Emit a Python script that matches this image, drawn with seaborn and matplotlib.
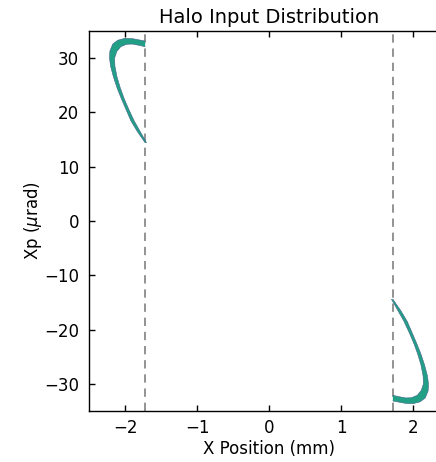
import numpy as np
import matplotlib
matplotlib.use("Agg")
import matplotlib.pyplot as plt
import seaborn as sns
import pandas as pd

# Halo shell edges in phase space (x in mm, xp in urad), beyond the cut |x| > 1.72
left_outer_x = [-1.72, -1.83, -1.92, -1.985, -2.05, -2.11, -2.16, -2.20, -2.215, -2.21, -2.17, -2.10, -2.00, -1.90, -1.80, -1.72]
left_outer_y = [14.4, 16.5, 18.5, 20.5, 22.5, 24.5, 26.5, 28.5, 30.0, 31.3, 32.6, 33.3, 33.65, 33.6, 33.35, 33.15]
left_inner_x = [-1.70, -1.79, -1.875, -1.945, -2.01, -2.065, -2.11, -2.14, -2.145, -2.115, -2.06, -1.98, -1.90, -1.80, -1.72]
left_inner_y = [14.4, 16.5, 18.5, 20.5, 22.5, 24.5, 26.5, 28.5, 30.0, 31.2, 32.1, 32.55, 32.6, 32.35, 32.1]

right_outer_x = [1.72, 1.83, 1.92, 1.985, 2.05, 2.11, 2.16, 2.20, 2.215, 2.21, 2.17, 2.10, 2.00, 1.90, 1.80, 1.72]
right_outer_y = [-14.4, -16.5, -18.5, -20.5, -22.5, -24.5, -26.5, -28.5, -30.0, -31.3, -32.6, -33.3, -33.65, -33.6, -33.35, -33.15]
right_inner_x = [1.70, 1.79, 1.875, 1.945, 2.01, 2.065, 2.11, 2.14, 2.145, 2.115, 2.06, 1.98, 1.90, 1.80, 1.72]
right_inner_y = [-14.4, -16.5, -18.5, -20.5, -22.5, -24.5, -26.5, -28.5, -30.0, -31.2, -32.1, -32.55, -32.6, -32.35, -32.1]

cut_positions = [-1.72, 1.72]
x_ticks = [-2, -1, 0, 1, 2]
y_ticks = [-30, -20, -10, 0, 10, 20, 30]

sns.set_style("white")
plt.rcParams["font.family"] = ["DejaVu Sans"]
plt.rcParams["mathtext.fontset"] = "dejavusans"
plt.rcParams["text.color"] = "black"
plt.rcParams["axes.labelcolor"] = "black"

fig = plt.figure(figsize=(4.36, 4.62), dpi=100)
ax = fig.add_axes([89 / 436, 51 / 462, 360 / 436, 380 / 462])

fill_color = "#22a085"
edge_color = "#3f5f8c"

for ox, oy, ix, iy in [(left_outer_x, left_outer_y, left_inner_x, left_inner_y),
                       (right_outer_x, right_outer_y, right_inner_x, right_inner_y)]:
    poly_x = list(ox) + list(ix[::-1])
    poly_y = list(oy) + list(iy[::-1])
    ax.fill(poly_x, poly_y, color=fill_color, lw=0, zorder=2)
    for ex, ey in [(ox, oy), (ix, iy)]:
        df = pd.DataFrame({"x": ex, "y": ey})
        sns.lineplot(data=df, x="x", y="y", sort=False, estimator=None,
                     color=edge_color, lw=0.4, ax=ax, zorder=3)

for xc in cut_positions:
    ax.axvline(xc, color="#808080", lw=1.2, ls=(0, (5, 3.5)), zorder=1)

ax.set_xlim(-2.5, 2.5)
ax.set_ylim(-35, 35)
ax.set_xticks(x_ticks)
ax.set_yticks(y_ticks)
ax.tick_params(direction="in", bottom=True, left=True, top=True, right=True,
               length=4.5, width=1, labelsize=12, colors="black")
ax.tick_params(axis="x", pad=6)
ax.tick_params(axis="y", pad=7)
for s in ax.spines.values():
    s.set_color("black")
    s.set_linewidth(1)

ax.set_title("Halo Input Distribution", fontsize=14, pad=6, color="black")
ax.set_xlabel("X Position (mm)", fontsize=12, labelpad=2)
ax.set_ylabel(r"Xp ($\mu$rad)", fontsize=12, labelpad=0)

fig.savefig("out.png", dpi=100)
